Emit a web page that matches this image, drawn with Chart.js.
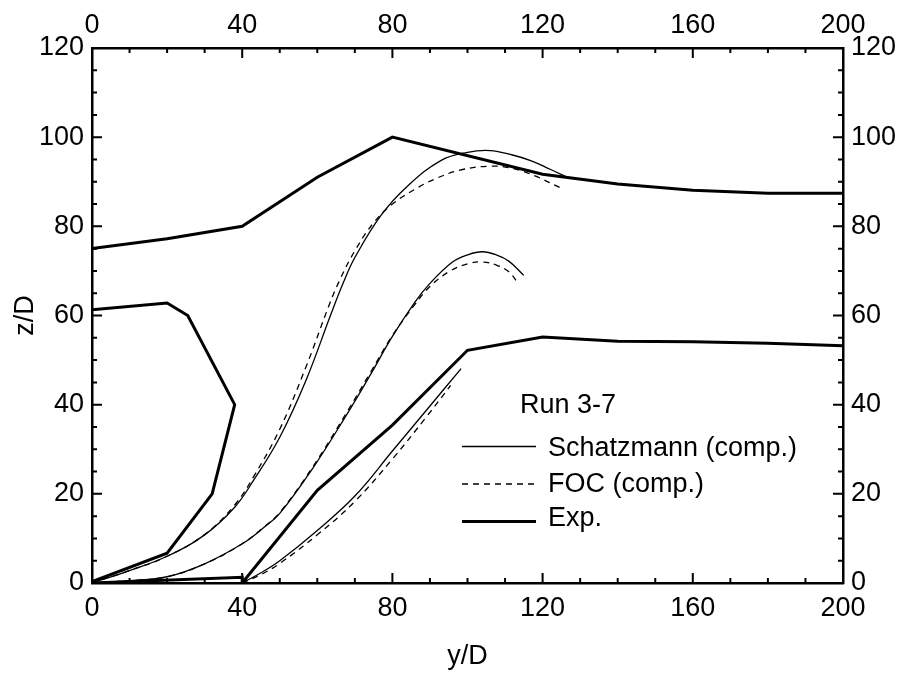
<!DOCTYPE html>
<html>
<head>
<meta charset="utf-8">
<script src="https://cdn.jsdelivr.net/npm/chart.js@4.4.1/dist/chart.umd.min.js"></script>
<style>
  body { margin: 0; background: #fff; }
  canvas { display: block; }
</style>
</head>
<body>
<canvas id="myChart" width="906" height="675"></canvas>
<script>
// experimental trajectories (thick lines)
const expUpperX = [0, 20, 40, 60, 80, 120, 140, 160, 180, 200];
const expUpperZ = [75, 77.2, 80, 91, 100, 91.7, 89.5, 88.1, 87.4, 87.4];
const expLoopX = [0, 20, 25.5, 38, 32, 20, 0];
const expLoopZ = [61.3, 62.8, 60, 40, 20, 6.7, 0.3];
const expLowerX = [0, 40, 40, 60, 80, 100, 120, 140, 160, 180, 200];
const expLowerZ = [0, 1.3, 0, 20.8, 35.4, 52.2, 55.2, 54.2, 54.1, 53.8, 53.2];

// Schatzmann (comp.)
const schAX = [0, 10, 20, 30, 38, 43, 50, 57, 63.5, 67, 70, 77, 84, 93, 100, 106, 112, 117, 122, 127.3];
const schAZ = [0, 2.8, 6, 10.8, 17, 23, 32.7, 45.5, 60, 67.5, 73, 82.5, 89, 94.8, 96.6, 97, 96, 94.7, 92.8, 90.7];
const schBX = [0, 10, 20, 30, 40, 46, 50, 59, 68, 74, 80, 86, 90, 96, 100, 104, 108, 111, 115];
const schBZ = [0, 0.5, 1.4, 4.3, 8.8, 12.6, 15.6, 26, 38, 46.5, 55.3, 63, 67.2, 72, 73.6, 74.3, 73.5, 72.2, 69];
const schCX = [40, 45, 50, 60, 70, 80, 89, 98.3];
const schCZ = [0, 2.3, 5, 11.8, 19.5, 29.6, 38.7, 48.1];

// FOC (comp.)
const focAX = [0, 10, 20, 30, 38, 43, 50, 57, 63, 66, 70, 75, 80, 86, 91, 98, 106, 112, 118, 124.6];
const focAZ = [0, 2.8, 6, 10.9, 17.5, 23.8, 34.5, 48.5, 62, 68, 74.5, 80.8, 85, 88.3, 90.5, 92.6, 93.5, 93, 91.3, 88.7];
const focBX = [0, 10, 20, 30, 40, 46, 50, 59, 68, 74, 80, 86, 90, 95, 100, 104, 108, 111, 113.5];
const focBZ = [0, 0.5, 1.4, 4.3, 8.8, 12.7, 15.8, 26.3, 38.5, 47, 55.5, 62.5, 66.5, 69.8, 71.6, 72, 71.2, 69.8, 67.2];
const focCX = [40, 45, 50, 60, 70, 80, 89, 95.5];
const focCZ = [0, 1.9, 4.4, 10.8, 18.3, 27.8, 37.2, 44.3];

const legendTitle = 'Run 3-7';
const legendLabels = ['Schatzmann (comp.)', 'FOC (comp.)', 'Exp.'];

const FONT = '"Liberation Sans", Arial, sans-serif';
Chart.defaults.font.family = FONT;
Chart.defaults.font.size = 27;
Chart.defaults.color = '#000';

function pts(xs, zs) {
    return xs.map((x, i) => ({ x: x, y: zs[i] }));
}

function expSet(xs, zs) {
    return { data: pts(xs, zs), borderColor: '#000', borderWidth: 3, pointRadius: 0, tension: 0, borderJoinStyle: 'miter' };
}
function schSet(xs, zs) {
    return { data: pts(xs, zs), borderColor: '#000', borderWidth: 1.3, pointRadius: 0, tension: 0.4 };
}
function focSet(xs, zs) {
    return { data: pts(xs, zs), borderColor: '#000', borderWidth: 1.3, borderDash: [6, 5], pointRadius: 0, tension: 0.4 };
}

// inward ticks on all four sides + legend box
const decorPlugin = {
    id: 'decor',
    afterDraw(chart) {
        const ctx = chart.ctx;
        const a = chart.chartArea;
        const xs = chart.scales.x;
        const ys = chart.scales.y;
        ctx.save();
        ctx.strokeStyle = '#000';
        ctx.lineWidth = 2;
        for (let v = 0; v <= 200; v += 10) {
            const px = xs.getPixelForValue(v);
            const len = v % 40 === 0 ? 10 : 5;
            ctx.beginPath();
            ctx.moveTo(px, a.bottom); ctx.lineTo(px, a.bottom - len);
            ctx.moveTo(px, a.top); ctx.lineTo(px, a.top + len);
            ctx.stroke();
        }
        for (let v = 0; v <= 120; v += 5) {
            const py = ys.getPixelForValue(v);
            const len = v % 20 === 0 ? 10 : 5;
            ctx.beginPath();
            ctx.moveTo(a.left, py); ctx.lineTo(a.left + len, py);
            ctx.moveTo(a.right, py); ctx.lineTo(a.right - len, py);
            ctx.stroke();
        }

        // legend
        const lx = a.left + 370;
        const tx = a.left + 456;
        ctx.fillStyle = '#000';
        ctx.font = '27px ' + FONT;
        ctx.textBaseline = 'alphabetic';
        ctx.fillText(legendTitle, a.left + 428, 412.5);
        const rows = [
            { y: 446.5, base: 455.5, w: 1.3, dash: [] },
            { y: 484, base: 492, w: 1.3, dash: [6, 5] },
            { y: 521.5, base: 526, w: 3, dash: [] },
        ];
        rows.forEach((r, i) => {
            ctx.beginPath();
            ctx.lineWidth = r.w;
            ctx.setLineDash(r.dash);
            ctx.moveTo(lx, r.y); ctx.lineTo(lx + 74, r.y);
            ctx.stroke();
            ctx.setLineDash([]);
            ctx.fillText(legendLabels[i], tx, r.base);
        });
        ctx.restore();
    }
};

const axisBorder = { display: true, color: '#000', width: 2.5 };

const config = {
    type: 'scatter',
    data: {
        datasets: [
            expSet(expUpperX, expUpperZ),
            expSet(expLoopX, expLoopZ),
            expSet(expLowerX, expLowerZ),
            schSet(schAX, schAZ),
            schSet(schBX, schBZ),
            schSet(schCX, schCZ),
            focSet(focAX, focAZ),
            focSet(focBX, focBZ),
            focSet(focCX, focCZ),
        ]
    },
    options: {
        responsive: false,
        animation: false,
        showLine: true,
        layout: { padding: 0 },
        plugins: { legend: { display: false }, tooltip: { enabled: false } },
        scales: {
            x: {
                type: 'linear', position: 'bottom', min: 0, max: 200,
                ticks: { stepSize: 40, padding: 9, maxRotation: 0 },
                grid: { display: false, drawTicks: false },
                border: axisBorder,
                title: { display: true, text: 'y/D', padding: { top: 0, bottom: 2 } },
                afterFit: (s) => { s.height = 92; }
            },
            x2: {
                type: 'linear', position: 'top', min: 0, max: 200,
                ticks: { stepSize: 40, padding: 6, maxRotation: 0 },
                grid: { display: false, drawTicks: false },
                border: axisBorder,
                afterFit: (s) => { s.height = 48; }
            },
            y: {
                type: 'linear', position: 'left', min: 0, max: 120,
                ticks: { stepSize: 20, padding: 8 },
                grid: { display: false, drawTicks: false },
                border: axisBorder,
                title: { display: true, text: 'z/D', padding: { top: 9, bottom: 0 } },
                afterFit: (s) => { s.width = 92; }
            },
            y2: {
                type: 'linear', position: 'right', min: 0, max: 120,
                ticks: { stepSize: 20, padding: 8 },
                grid: { display: false, drawTicks: false },
                border: axisBorder,
                afterFit: (s) => { s.width = 63; }
            }
        }
    },
    plugins: [decorPlugin]
};

const myChart = new Chart(document.getElementById('myChart'), config);
</script>
</body>
</html>
